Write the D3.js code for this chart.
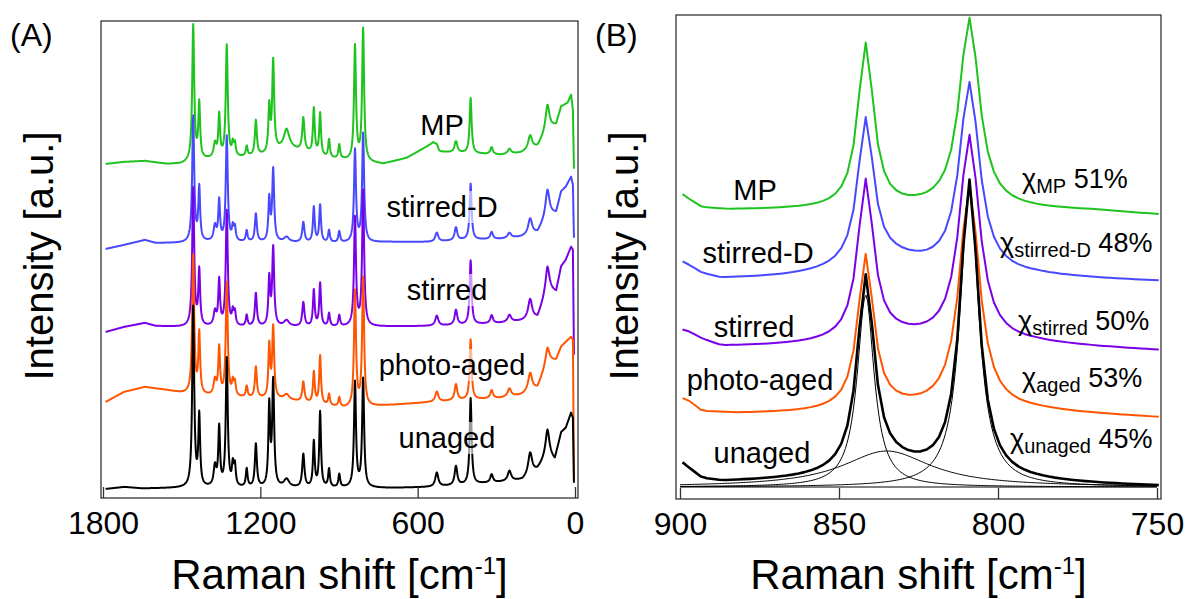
<!DOCTYPE html>
<html><head><meta charset="utf-8">
<script src="https://cdn.jsdelivr.net/npm/d3@7"></script>
<style>
html,body{margin:0;padding:0;background:#fff;}
svg{display:block;font-family:"Liberation Sans",Arial,Helvetica,sans-serif;}
</style></head><body>
<svg id="chart" width="1190" height="599"></svg>
<script>
// ================= DATA =================
const seriesNames  = ["MP", "stirred-D", "stirred", "photo-aged", "unaged"];
const seriesColors = ["#1ec31e", "#4848ff", "#7a00e8", "#ff5500", "#000000"];

// ---- Panel A: full Raman spectra (peak tables) ----
const ticksA = [1800, 1200, 600, 0];
const peakPosA  = [1456,1433,1373,1357,1328,1305,1297,1252,1217,1166,1151,1100,1036,996,972,938,899,839,808,527,454,398,318,250,171,105];
const peakHwhmA = [4.5,4,6,4,4.5,4,4,4,4.5,4,4.5,12,5,4,4,4,4,4.5,4.5,7,6,4.5,6,8,9,9];
const heightA_MP        = [135,55,14,42,112,12,12,10,35,45,90,16,33,45,42,18,14,114,132,4,12,55,7,5,14,25];
const heightA_stirredD  = [125,53,15,40,105,13,13,11,28,42,72,5,20,35,37,12,11,92,108,9,13,56,7,5,16,25];
const heightA_stirred   = [138,55,14,45,115,13,13,11,33,47,78,6,24,36,43,13,11,108,135,10,15,64,8,7,20,23];
const heightA_aged      = [138,60,15,47,113,13,13,11,31,52,71,5,20,31,48,11,9,115,128,10,16,60,8,8,18,14];
const heightA_unaged    = [180,70,20,58,128,20,20,18,43,80,105,8,33,45,75,18,13,105,108,14,19,86,8,10,22,25];
// baselines [wavenumber, intensity]
const baseA_MP       = [[1790,325],[1722,327],[1640,328],[1557,325],[1500,325],[1440,329],[1250,332],[1180,334],[1130,339],[1100,343],[1060,339],[1000,335],[950,331],[880,329],[770,326],[731,325],[642,331],[540,346],[518,337],[424,336],[283,334],[206,336],[143,342],[105,359],[72,364],[53,382],[28,386],[15,394],[8,379],[4,320]];
const baseA_stirredD = [[1790,240],[1720,244],[1640,249],[1600,246],[1500,246],[1440,247],[880,246],[700,247],[540,247],[424,249],[283,250],[206,252],[143,256],[105,274],[72,276],[53,297],[35,302],[15,312],[8,304],[4,251]];
const baseA_stirred  = [[1790,157],[1720,162],[1640,166],[1600,163],[1500,162],[880,162],[540,163],[424,164],[283,166],[206,168],[143,171],[105,199],[72,197],[53,222],[35,229],[15,242],[8,239],[4,134]];
const baseA_aged     = [[1790,87],[1720,97],[1640,102],[1560,99],[1500,96],[1400,93],[1100,89],[880,81],[700,84],[540,87],[424,89],[283,91],[206,94],[143,101],[105,127],[72,129],[53,142],[35,147],[15,152],[8,149],[4,9]];
const baseA_unaged   = [[1790,0],[1718,2],[1650,0.5],[1500,1],[880,1],[700,1],[540,2],[424,4],[283,7],[200,9],[143,19],[105,34],[77,29],[53,56],[35,61],[15,76],[8,71],[4,6]];

// ---- Panel B: 900-750 cm-1 region ----
const ticksB = [900, 850, 800, 750];
const peakPosB = [841.6, 809, 835];            // crystalline, crystalline, amorphous
const heightB_MP       = [165, 191, 0];
const heightB_stirredD = [144, 190, 18];
const heightB_stirred  = [158, 207, 8];
const heightB_aged     = [154, 225, 3];
const heightB_unaged   = [192, 298, 16];
const hwhmB_default    = [3.0, 3.8, 17];
const hwhmB_unaged     = [3.2, 3.5, 16];
const baseB_MP       = [[900,294],[897,287],[893,279],[885,277],[870,277],[790,277],[770,276],[749,272]];
const baseB_stirredD = [[900,225],[897,220],[893,212],[887,207],[872,207],[788,209],[749,205]];
const baseB_stirred  = [[900,157],[897,154],[893,147],[887,140],[872,140],[788,142],[749,136]];
const baseB_aged     = [[900,89],[897,85],[893,75],[882,73],[861,73],[788,75],[749,69]];
const baseB_unaged   = [[900,25],[897,17],[893,7],[887,4],[870,4],[788,3],[749,0]];
// fitted components of the unaged spectrum
const compHeightB = [192, 300, 36];
const compHwhmB   = [3.2, 3.5, 17];
const crystLabels = ["MP", "stirred-D", "stirred", "aged", "unaged"];
const crystValues = ["51%", "48%", "50%", "53%", "45%"];

// ================= BUILD =================
function spectrum(grid, base, pos, hw, hts) {
  const b = d3.scaleLinear().domain(base.map(d => d[0])).range(base.map(d => d[1])).clamp(true);
  return grid.map(w => [w, b(w) + d3.sum(pos, (c, i) => hts[i] / (1 + ((w - c) / hw[i]) ** 2))]);
}
function lorentz(grid, c, h, g) { return grid.map(w => [w, h / (1 + ((w - c) / g) ** 2)]); }

const gridA = d3.range(1790, 3.5, -1);
const gridB = d3.range(-30, 49).map(k => 841.6 - k * 1.92);
const gridC = d3.range(900, 749.9, -0.5);

const seriesA = [
  spectrum(gridA, baseA_MP, peakPosA, peakHwhmA, heightA_MP),
  spectrum(gridA, baseA_stirredD, peakPosA, peakHwhmA, heightA_stirredD),
  spectrum(gridA, baseA_stirred, peakPosA, peakHwhmA, heightA_stirred),
  spectrum(gridA, baseA_aged, peakPosA, peakHwhmA, heightA_aged),
  spectrum(gridA, baseA_unaged, peakPosA, peakHwhmA, heightA_unaged)
];
const seriesB = [
  spectrum(gridB, baseB_MP, peakPosB, hwhmB_default, heightB_MP),
  spectrum(gridB, baseB_stirredD, peakPosB, hwhmB_default, heightB_stirredD),
  spectrum(gridB, baseB_stirred, peakPosB, hwhmB_default, heightB_stirred),
  spectrum(gridB, baseB_aged, peakPosB, hwhmB_default, heightB_aged),
  spectrum(gridB, baseB_unaged, peakPosB, hwhmB_unaged, heightB_unaged)
];
const componentsB = peakPosB.map((c, i) => lorentz(gridC, c, compHeightB[i], compHwhmB[i]));

// ================= DRAW =================
const svg = d3.select("#chart");
const FONT = '"Liberation Sans",Arial,Helvetica,sans-serif';

const panels = [
  { frame: [101, 21, 578, 498], x: d3.scaleLinear().domain([1800, 0]).range([103, 575]),
    y: d3.scaleLinear().domain([0, 468]).range([489, 21]), ticks: ticksA, letter: "(A)", letterX: 10, ylabX: 53 },
  { frame: [676, 15, 1161, 499], x: d3.scaleLinear().domain([900, 750]).range([680, 1157]),
    y: d3.scaleLinear().domain([0, 472]).range([487, 15]), ticks: ticksB, letter: "(B)", letterX: 595, ylabX: 638 }
];

panels.forEach((p, pi) => {
  const [x0, y0, x1, y1] = p.frame;
  const clipId = "clip" + pi;
  svg.append("clipPath").attr("id", clipId).append("rect")
    .attr("x", x0).attr("y", y0).attr("width", x1 - x0).attr("height", y1 - y0);
  const g = svg.append("g").attr("clip-path", `url(#${clipId})`);
  const line = d3.line().x(d => p.x(d[0])).y(d => p.y(d[1]));
  const data = pi === 0 ? seriesA : seriesB;

  if (pi === 1) {
    g.append("path").attr("d", line([[900, 0], [750, 0]]))
      .attr("fill", "none").attr("stroke", "#000").attr("stroke-width", 1);
  }
  data.forEach((s, i) => {
    g.append("path").attr("d", line(s)).attr("fill", "none")
      .attr("stroke", seriesColors[i]).attr("stroke-width", pi === 1 && i === 4 ? 2.6 : 2)
      .attr("stroke-linejoin", "round");
  });
  if (pi === 1) {
    componentsB.forEach(c => {
      g.append("path").attr("d", line(c)).attr("fill", "none")
        .attr("stroke", "#000").attr("stroke-width", 1);
    });
  }

  // frame
  svg.append("rect").attr("x", x0).attr("y", y0).attr("width", x1 - x0).attr("height", y1 - y0)
    .attr("fill", "none").attr("stroke", "#333").attr("stroke-width", 1.3);

  // x axis
  const ax = svg.append("g").attr("transform", `translate(0,${y1})`)
    .call(d3.axisBottom(p.x).tickValues(p.ticks).tickFormat(d3.format("d")).tickSize(-11).tickPadding(13));
  ax.select(".domain").remove();
  ax.selectAll(".tick line").attr("stroke", "#333").attr("stroke-width", 1.3);
  ax.selectAll(".tick text").attr("font-size", 32).attr("font-family", FONT).attr("fill", "#000");

  // x title
  const cx = (x0 + x1) / 2;
  const t = svg.append("text").attr("x", cx).attr("y", 589).attr("text-anchor", "middle")
    .attr("font-size", 42).attr("font-family", FONT);
  t.append("tspan").text("Raman shift [cm");
  t.append("tspan").attr("font-size", 24).attr("dy", -15).text("-1");
  t.append("tspan").attr("dy", 15).text("]");

  // y title
  svg.append("text").attr("transform", `translate(${p.ylabX},256) rotate(-90)`)
    .attr("text-anchor", "middle").attr("font-size", 40).attr("font-family", FONT)
    .text("Intensity [a.u.]");

  // panel letter
  svg.append("text").attr("x", p.letterX).attr("y", 46).attr("font-size", 32)
    .attr("font-family", FONT).text(p.letter);
});

// series labels, panel A (with translucent white boxes as in the original)
const labelPosA = [[442, 135], [442, 217], [447, 300], [452, 375], [447, 448]];
seriesNames.forEach((n, i) => {
  const txt = svg.append("text").attr("x", labelPosA[i][0]).attr("y", labelPosA[i][1])
    .attr("text-anchor", "middle").attr("font-size", 29).attr("font-family", FONT).text(n);
  const bb = txt.node().getBBox();
  svg.insert("rect", () => txt.node()).attr("x", bb.x).attr("y", bb.y)
    .attr("width", bb.width).attr("height", bb.height).attr("fill", "#fff").attr("fill-opacity", 0.6);
});

// series labels, panel B
const labelPosB = [[755, 200], [758, 263], [754, 337], [760, 390], [762, 463]];
seriesNames.forEach((n, i) => {
  svg.append("text").attr("x", labelPosB[i][0]).attr("y", labelPosB[i][1])
    .attr("text-anchor", "middle").attr("font-size", 29).attr("font-family", FONT).text(n);
});

// crystallinity labels
const crystPos = [[1022, 188], [1000, 252], [1018, 330], [1022, 387], [1010, 448]];
crystLabels.forEach((n, i) => {
  const t = svg.append("text").attr("x", crystPos[i][0]).attr("y", crystPos[i][1])
    .attr("font-size", 27).attr("font-family", FONT);
  t.append("tspan").text("χ");
  t.append("tspan").attr("font-size", 20).attr("dy", 5).text(n);
  t.append("tspan").attr("dy", -5).text("\u00A0" + crystValues[i]);
});
</script>
</body></html>
